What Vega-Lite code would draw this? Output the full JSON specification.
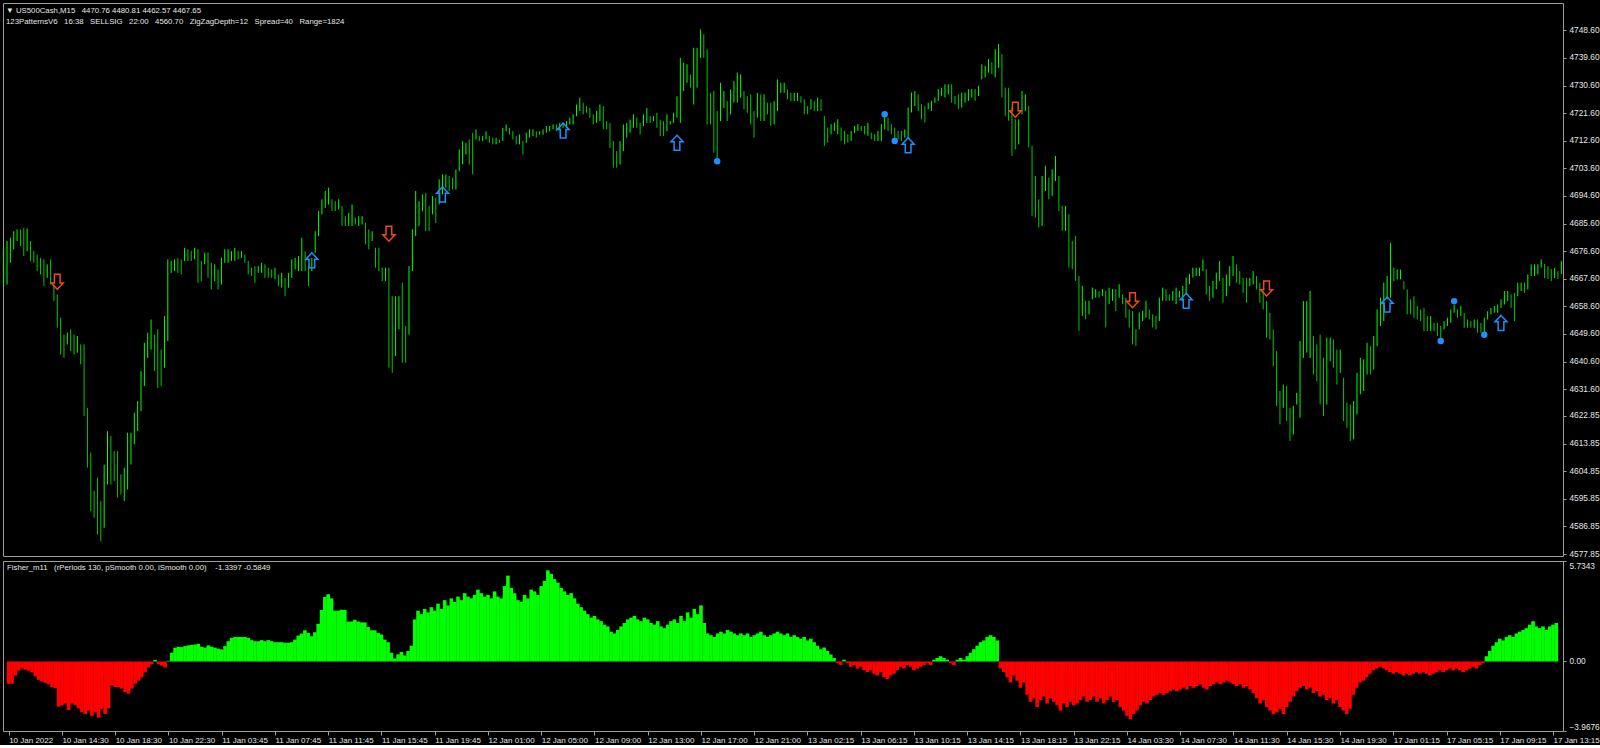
{
  "$schema": "https://vega.github.io/schema/vega-lite/v6.json",
  "description": "US500Cash M15 bar chart with 123PatternsV6 signals and Fisher_m11 histogram.",
  "background": "#000000",
  "padding": {"left": 2, "top": 2, "right": 0, "bottom": 0},
  "spacing": 2,
  "config": {
    "view": {"stroke": "#9c9c9c", "fill": "#000000"},
    "axis": {"grid": false, "domain": false, "labelOverlap": false, "tickColor": "#9c9c9c", "tickSize": 3, "labelColor": "#e6e6e6", "labelFont": "Liberation Sans", "labelFontSize": 8.3},
    "title": {"font": "Liberation Sans", "fontSize": 7.8, "fontWeight": "normal", "color": "#e6e6e6", "subtitleFont": "Liberation Sans", "subtitleFontSize": 7.8, "subtitleColor": "#e6e6e6", "subtitlePadding": 3}
  },
  "datasets": {
    "bars": [
{"i":0,"h":4677.7,"l":4665.2,"f":-1.27},{"i":1,"h":4679.9,"l":4665.7,"f":-1.27},{"i":2,"h":4681.0,"l":4672.8,"f":-0.8},{"i":3,"h":4683.1,"l":4677.2,"f":-0.52},{"i":4,"h":4683.7,"l":4679.9,"f":-0.39},
{"i":5,"h":4683.7,"l":4678.2,"f":-0.47},{"i":6,"h":4684.2,"l":4675.0,"f":-0.52},{"i":7,"h":4684.0,"l":4676.6,"f":-0.62},{"i":8,"h":4679.9,"l":4673.4,"f":-0.84},{"i":9,"h":4676.6,"l":4672.8,"f":-1.05},
{"i":10,"h":4675.5,"l":4670.1,"f":-1.14},{"i":11,"h":4674.4,"l":4669.0,"f":-1.22},{"i":12,"h":4673.9,"l":4665.2,"f":-1.31},{"i":13,"h":4672.3,"l":4667.9,"f":-1.46},{"i":14,"h":4673.9,"l":4665.7,"f":-1.52},
{"i":15,"h":4665.7,"l":4660.3,"f":-2.58},{"i":16,"h":4662.5,"l":4651.6,"f":-2.49},{"i":17,"h":4654.9,"l":4642.9,"f":-2.4},{"i":18,"h":4649.4,"l":4641.8,"f":-2.77},{"i":19,"h":4650.0,"l":4646.2,"f":-2.4},
{"i":20,"h":4651.1,"l":4644.0,"f":-2.49},{"i":21,"h":4649.4,"l":4642.9,"f":-2.68},{"i":22,"h":4648.9,"l":4643.5,"f":-2.9},{"i":23,"h":4646.2,"l":4639.7,"f":-3.0},{"i":24,"h":4646.2,"l":4622.8,"f":-2.8},
{"i":25,"h":4625.5,"l":4606.0,"f":-3.1},{"i":26,"h":4610.9,"l":4591.8,"f":-2.9},{"i":27,"h":4598.4,"l":4589.7,"f":-3.2},{"i":28,"h":4602.7,"l":4584.2,"f":-2.7},{"i":29,"h":4595.1,"l":4582.0,"f":-3.0},
{"i":30,"h":4607.0,"l":4586.4,"f":-2.68},{"i":31,"h":4617.9,"l":4600.5,"f":-1.37},{"i":32,"h":4616.3,"l":4600.5,"f":-1.46},{"i":33,"h":4611.4,"l":4601.6,"f":-1.46},{"i":34,"h":4611.4,"l":4596.2,"f":-1.55},
{"i":35,"h":4603.8,"l":4597.3,"f":-1.74},{"i":36,"h":4606.0,"l":4595.1,"f":-1.83},{"i":37,"h":4617.4,"l":4598.9,"f":-1.55},{"i":38,"h":4617.4,"l":4607.0,"f":-1.27},{"i":39,"h":4623.9,"l":4613.6,"f":-1.09},
{"i":40,"h":4627.7,"l":4617.9,"f":-0.9},{"i":41,"h":4637.5,"l":4624.4,"f":-0.62},{"i":42,"h":4646.7,"l":4632.6,"f":-0.34},{"i":43,"h":4650.0,"l":4641.8,"f":-0.15},{"i":44,"h":4654.3,"l":4644.5,"f":0.09},
{"i":45,"h":4649.4,"l":4637.5,"f":-0.15},{"i":46,"h":4651.1,"l":4632.0,"f":-0.24},{"i":47,"h":4644.5,"l":4632.6,"f":-0.34},{"i":48,"h":4655.4,"l":4638.6,"f":0.04},{"i":49,"h":4673.9,"l":4647.3,"f":0.5},
{"i":50,"h":4673.4,"l":4669.5,"f":0.79},{"i":51,"h":4673.9,"l":4670.1,"f":0.84},{"i":52,"h":4674.4,"l":4669.5,"f":0.82},{"i":53,"h":4673.9,"l":4669.0,"f":0.88},{"i":54,"h":4677.7,"l":4673.4,"f":0.92},
{"i":55,"h":4677.2,"l":4673.4,"f":0.95},{"i":56,"h":4676.6,"l":4673.4,"f":0.97},{"i":57,"h":4677.7,"l":4673.9,"f":1.01},{"i":58,"h":4677.2,"l":4666.3,"f":0.84},{"i":59,"h":4673.4,"l":4666.8,"f":0.79},
{"i":60,"h":4676.1,"l":4672.3,"f":0.92},{"i":61,"h":4676.1,"l":4667.9,"f":0.84},{"i":62,"h":4672.8,"l":4664.1,"f":0.79},{"i":63,"h":4672.3,"l":4666.8,"f":0.73},{"i":64,"h":4670.6,"l":4664.1,"f":0.69},
{"i":65,"h":4674.4,"l":4665.7,"f":0.88},{"i":66,"h":4677.2,"l":4672.8,"f":1.16},{"i":67,"h":4677.2,"l":4672.8,"f":1.35},{"i":68,"h":4676.6,"l":4673.4,"f":1.4},{"i":69,"h":4677.7,"l":4673.4,"f":1.4},
{"i":70,"h":4676.6,"l":4673.9,"f":1.4},{"i":71,"h":4676.6,"l":4674.4,"f":1.4},{"i":72,"h":4675.5,"l":4672.8,"f":1.35},{"i":73,"h":4673.4,"l":4669.0,"f":1.22},{"i":74,"h":4671.2,"l":4668.5,"f":1.16},
{"i":75,"h":4671.7,"l":4666.3,"f":1.16},{"i":76,"h":4671.7,"l":4669.5,"f":1.22},{"i":77,"h":4672.8,"l":4669.5,"f":1.16},{"i":78,"h":4672.3,"l":4667.9,"f":1.22},{"i":79,"h":4671.2,"l":4667.9,"f":1.16},
{"i":80,"h":4670.6,"l":4667.9,"f":1.1},{"i":81,"h":4671.2,"l":4667.4,"f":1.1},{"i":82,"h":4669.0,"l":4665.2,"f":1.1},{"i":83,"h":4669.5,"l":4664.7,"f":1.07},{"i":84,"h":4667.9,"l":4661.9,"f":1.07},
{"i":85,"h":4669.5,"l":4664.7,"f":1.1},{"i":86,"h":4673.9,"l":4667.9,"f":1.25},{"i":87,"h":4674.4,"l":4670.6,"f":1.48},{"i":88,"h":4675.0,"l":4670.1,"f":1.59},{"i":89,"h":4681.0,"l":4670.1,"f":1.78},
{"i":90,"h":4676.6,"l":4670.1,"f":1.63},{"i":91,"h":4671.7,"l":4665.2,"f":1.44},{"i":92,"h":4674.4,"l":4670.1,"f":1.67},{"i":93,"h":4683.1,"l":4676.1,"f":2.15},{"i":94,"h":4689.7,"l":4681.5,"f":2.94},
{"i":95,"h":4693.5,"l":4688.6,"f":3.69},{"i":96,"h":4696.2,"l":4690.7,"f":3.84},{"i":97,"h":4697.3,"l":4691.8,"f":3.6},{"i":98,"h":4693.5,"l":4689.7,"f":2.9},{"i":99,"h":4692.9,"l":4689.7,"f":2.9},
{"i":100,"h":4693.5,"l":4690.2,"f":2.95},{"i":101,"h":4691.3,"l":4684.8,"f":2.94},{"i":102,"h":4688.0,"l":4684.8,"f":2.28},{"i":103,"h":4689.1,"l":4684.8,"f":2.28},{"i":104,"h":4691.8,"l":4684.8,"f":2.38},
{"i":105,"h":4687.5,"l":4685.3,"f":2.28},{"i":106,"h":4688.0,"l":4684.8,"f":2.23},{"i":107,"h":4688.0,"l":4685.3,"f":2.23},{"i":108,"h":4685.9,"l":4678.8,"f":1.97},{"i":109,"h":4683.7,"l":4677.2,"f":1.78},
{"i":110,"h":4683.1,"l":4679.9,"f":1.78},{"i":111,"h":4677.7,"l":4671.2,"f":1.63},{"i":112,"h":4677.7,"l":4670.1,"f":1.54},{"i":113,"h":4671.2,"l":4666.8,"f":1.25},{"i":114,"h":4671.2,"l":4666.8,"f":1.1},
{"i":115,"h":4671.2,"l":4638.6,"f":0.5},{"i":116,"h":4661.9,"l":4636.9,"f":0.17},{"i":117,"h":4661.9,"l":4642.4,"f":0.41},{"i":118,"h":4661.9,"l":4651.1,"f":0.54},{"i":119,"h":4666.3,"l":4640.2,"f":0.35},
{"i":120,"h":4652.2,"l":4640.2,"f":0.6},{"i":121,"h":4671.7,"l":4649.4,"f":0.9},{"i":122,"h":4683.7,"l":4670.1,"f":2.4},{"i":123,"h":4696.2,"l":4681.5,"f":2.9},{"i":124,"h":4692.9,"l":4684.8,"f":2.7},
{"i":125,"h":4695.1,"l":4689.6,"f":3.0},{"i":126,"h":4695.6,"l":4683.1,"f":2.8},{"i":127,"h":4691.3,"l":4683.1,"f":3.1},{"i":128,"h":4694.5,"l":4688.6,"f":2.9},{"i":129,"h":4694.0,"l":4685.8,"f":3.3},
{"i":130,"h":4700.0,"l":4691.8,"f":3.0},{"i":131,"h":4701.6,"l":4695.1,"f":3.5},{"i":132,"h":4701.6,"l":4697.3,"f":3.2},{"i":133,"h":4701.1,"l":4696.2,"f":3.6},{"i":134,"h":4700.5,"l":4696.7,"f":3.4},
{"i":135,"h":4703.2,"l":4696.7,"f":3.7},{"i":136,"h":4709.8,"l":4702.7,"f":3.5},{"i":137,"h":4712.5,"l":4704.9,"f":3.9},{"i":138,"h":4711.9,"l":4708.1,"f":3.7},{"i":139,"h":4713.0,"l":4704.9,"f":3.6},
{"i":140,"h":4715.2,"l":4701.6,"f":3.8},{"i":141,"h":4716.3,"l":4713.0,"f":4.1},{"i":142,"h":4714.1,"l":4712.5,"f":3.9},{"i":143,"h":4714.1,"l":4712.5,"f":3.7},{"i":144,"h":4715.7,"l":4713.0,"f":3.8},
{"i":145,"h":4714.1,"l":4711.9,"f":3.6},{"i":146,"h":4713.6,"l":4711.4,"f":4.0},{"i":147,"h":4713.6,"l":4711.4,"f":3.7},{"i":148,"h":4713.0,"l":4711.9,"f":3.6},{"i":149,"h":4716.8,"l":4712.5,"f":4.3},
{"i":150,"h":4717.9,"l":4715.7,"f":4.9},{"i":151,"h":4716.8,"l":4714.6,"f":4.2},{"i":152,"h":4715.7,"l":4713.0,"f":3.9},{"i":153,"h":4714.1,"l":4711.4,"f":3.5},{"i":154,"h":4714.6,"l":4711.4,"f":3.4},
{"i":155,"h":4712.5,"l":4708.1,"f":3.8},{"i":156,"h":4715.2,"l":4711.9,"f":3.6},{"i":157,"h":4716.3,"l":4713.6,"f":4.1},{"i":158,"h":4716.3,"l":4714.1,"f":4.0},{"i":159,"h":4715.7,"l":4713.6,"f":3.8},
{"i":160,"h":4715.7,"l":4714.6,"f":4.3},{"i":161,"h":4716.3,"l":4714.6,"f":4.6},{"i":162,"h":4717.4,"l":4715.2,"f":5.2},{"i":163,"h":4717.4,"l":4715.7,"f":5.0},{"i":164,"h":4717.9,"l":4716.3,"f":4.7},
{"i":165,"h":4717.9,"l":4715.7,"f":4.5},{"i":166,"h":4718.4,"l":4716.3,"f":4.2},{"i":167,"h":4718.4,"l":4716.8,"f":4.0},{"i":168,"h":4719.0,"l":4716.8,"f":3.8},{"i":169,"h":4720.1,"l":4717.9,"f":3.9},
{"i":170,"h":4721.2,"l":4717.9,"f":3.6},{"i":171,"h":4724.4,"l":4720.6,"f":3.3},{"i":172,"h":4726.6,"l":4722.3,"f":3.1},{"i":173,"h":4725.0,"l":4721.2,"f":2.9},{"i":174,"h":4723.9,"l":4721.7,"f":2.7},
{"i":175,"h":4723.3,"l":4720.1,"f":2.5},{"i":176,"h":4721.2,"l":4717.9,"f":2.6},{"i":177,"h":4722.3,"l":4718.4,"f":2.4},{"i":178,"h":4724.4,"l":4719.0,"f":2.3},{"i":179,"h":4723.9,"l":4716.3,"f":2.1},
{"i":180,"h":4719.0,"l":4716.3,"f":2.0},{"i":181,"h":4718.4,"l":4710.3,"f":1.7},{"i":182,"h":4712.5,"l":4703.8,"f":1.6},{"i":183,"h":4709.2,"l":4703.8,"f":1.8},{"i":184,"h":4712.5,"l":4704.9,"f":2.0},
{"i":185,"h":4717.9,"l":4709.2,"f":2.2},{"i":186,"h":4718.4,"l":4713.6,"f":2.4},{"i":187,"h":4719.5,"l":4715.2,"f":2.5},{"i":188,"h":4721.2,"l":4716.8,"f":2.6},{"i":189,"h":4720.1,"l":4716.8,"f":2.4},
{"i":190,"h":4718.4,"l":4714.6,"f":2.3},{"i":191,"h":4721.2,"l":4717.4,"f":2.5},{"i":192,"h":4723.3,"l":4718.4,"f":2.4},{"i":193,"h":4720.6,"l":4718.4,"f":2.2},{"i":194,"h":4720.6,"l":4719.0,"f":2.1},
{"i":195,"h":4721.7,"l":4716.8,"f":2.3},{"i":196,"h":4719.5,"l":4714.1,"f":2.0},{"i":197,"h":4719.0,"l":4714.1,"f":1.9},{"i":198,"h":4721.2,"l":4715.7,"f":2.1},{"i":199,"h":4719.0,"l":4717.9,"f":2.3},
{"i":200,"h":4721.7,"l":4718.4,"f":2.4},{"i":201,"h":4727.1,"l":4720.1,"f":2.2},{"i":202,"h":4739.6,"l":4718.4,"f":2.6},{"i":203,"h":4738.0,"l":4728.8,"f":2.3},{"i":204,"h":4737.5,"l":4731.5,"f":2.8},
{"i":205,"h":4734.2,"l":4729.9,"f":2.5},{"i":206,"h":4742.9,"l":4724.4,"f":3.0},{"i":207,"h":4742.9,"l":4729.9,"f":2.7},{"i":208,"h":4748.9,"l":4739.6,"f":3.2},{"i":209,"h":4747.3,"l":4739.6,"f":2.2},
{"i":210,"h":4742.4,"l":4717.9,"f":1.6},{"i":211,"h":4728.2,"l":4717.9,"f":1.5},{"i":212,"h":4728.8,"l":4708.7,"f":1.4},{"i":213,"h":4722.3,"l":4706.5,"f":1.6},{"i":214,"h":4731.5,"l":4719.0,"f":1.7},
{"i":215,"h":4728.8,"l":4723.3,"f":1.6},{"i":216,"h":4725.5,"l":4719.0,"f":1.8},{"i":217,"h":4729.3,"l":4721.2,"f":1.7},{"i":218,"h":4732.0,"l":4725.0,"f":1.6},{"i":219,"h":4734.8,"l":4725.0,"f":1.5},
{"i":220,"h":4734.2,"l":4726.6,"f":1.6},{"i":221,"h":4728.8,"l":4722.8,"f":1.5},{"i":222,"h":4727.1,"l":4721.7,"f":1.6},{"i":223,"h":4727.7,"l":4717.9,"f":1.4},{"i":224,"h":4722.3,"l":4713.6,"f":1.5},
{"i":225,"h":4728.2,"l":4720.1,"f":1.6},{"i":226,"h":4727.7,"l":4719.0,"f":1.7},{"i":227,"h":4727.7,"l":4719.0,"f":1.5},{"i":228,"h":4725.0,"l":4721.2,"f":1.4},{"i":229,"h":4725.0,"l":4717.4,"f":1.5},
{"i":230,"h":4725.5,"l":4717.9,"f":1.6},{"i":231,"h":4732.6,"l":4722.3,"f":1.7},{"i":232,"h":4731.5,"l":4728.2,"f":1.6},{"i":233,"h":4731.5,"l":4728.2,"f":1.5},{"i":234,"h":4729.3,"l":4726.1,"f":1.6},
{"i":235,"h":4728.2,"l":4725.5,"f":1.4},{"i":236,"h":4728.2,"l":4725.5,"f":1.5},{"i":237,"h":4728.2,"l":4725.5,"f":1.4},{"i":238,"h":4727.1,"l":4725.0,"f":1.3},{"i":239,"h":4726.1,"l":4721.2,"f":1.4},
{"i":240,"h":4723.9,"l":4721.2,"f":1.2},{"i":241,"h":4726.1,"l":4722.8,"f":1.3},{"i":242,"h":4725.5,"l":4722.3,"f":1.1},{"i":243,"h":4726.6,"l":4722.3,"f":0.9},{"i":244,"h":4726.1,"l":4722.3,"f":0.7},
{"i":245,"h":4720.7,"l":4710.9,"f":0.8},{"i":246,"h":4716.9,"l":4712.0,"f":0.6},{"i":247,"h":4718.0,"l":4714.7,"f":0.4},{"i":248,"h":4718.5,"l":4715.8,"f":0.2},{"i":249,"h":4719.6,"l":4714.7,"f":-0.1},
{"i":250,"h":4716.9,"l":4712.5,"f":-0.2},{"i":251,"h":4715.8,"l":4711.4,"f":0.1},{"i":252,"h":4714.7,"l":4712.0,"f":-0.1},{"i":253,"h":4715.8,"l":4712.5,"f":-0.3},{"i":254,"h":4717.4,"l":4715.2,"f":-0.2},
{"i":255,"h":4718.0,"l":4715.8,"f":-0.4},{"i":256,"h":4717.4,"l":4715.8,"f":-0.3},{"i":257,"h":4717.4,"l":4714.7,"f":-0.5},{"i":258,"h":4718.5,"l":4714.2,"f":-0.6},{"i":259,"h":4715.2,"l":4713.1,"f":-0.5},
{"i":260,"h":4714.7,"l":4712.5,"f":-0.7},{"i":261,"h":4715.8,"l":4712.5,"f":-0.8},{"i":262,"h":4718.0,"l":4712.5,"f":-0.6},{"i":263,"h":4720.7,"l":4716.3,"f":-0.9},{"i":264,"h":4720.1,"l":4715.8,"f":-1.0},
{"i":265,"h":4718.0,"l":4714.7,"f":-0.8},{"i":266,"h":4716.9,"l":4713.1,"f":-0.7},{"i":267,"h":4715.8,"l":4713.1,"f":-0.5},{"i":268,"h":4715.8,"l":4712.5,"f":-0.3},{"i":269,"h":4716.3,"l":4713.6,"f":-0.4},
{"i":270,"h":4723.4,"l":4713.6,"f":-0.2},{"i":271,"h":4728.3,"l":4721.8,"f":-0.3},{"i":272,"h":4728.8,"l":4723.9,"f":-0.5},{"i":273,"h":4727.7,"l":4722.3,"f":-0.4},{"i":274,"h":4724.5,"l":4719.6,"f":-0.3},
{"i":275,"h":4723.9,"l":4718.5,"f":-0.2},{"i":276,"h":4725.0,"l":4722.9,"f":-0.1},{"i":277,"h":4725.6,"l":4722.3,"f":-0.2},{"i":278,"h":4726.7,"l":4725.0,"f":0.1},{"i":279,"h":4729.4,"l":4725.6,"f":0.2},
{"i":280,"h":4729.9,"l":4727.2,"f":0.3},{"i":281,"h":4731.0,"l":4726.7,"f":0.2},{"i":282,"h":4731.0,"l":4727.7,"f":0.1},{"i":283,"h":4731.0,"l":4725.0,"f":-0.1},{"i":284,"h":4727.2,"l":4724.5,"f":-0.2},
{"i":285,"h":4727.7,"l":4722.9,"f":0.1},{"i":286,"h":4728.3,"l":4723.4,"f":0.2},{"i":287,"h":4728.3,"l":4725.0,"f":0.1},{"i":288,"h":4729.4,"l":4725.6,"f":0.3},{"i":289,"h":4729.4,"l":4726.7,"f":0.5},
{"i":290,"h":4729.4,"l":4725.6,"f":0.7},{"i":291,"h":4730.5,"l":4727.2,"f":0.9},{"i":292,"h":4737.5,"l":4732.6,"f":1.1},{"i":293,"h":4737.0,"l":4733.2,"f":1.2},{"i":294,"h":4739.2,"l":4734.8,"f":1.4},
{"i":295,"h":4738.1,"l":4734.3,"f":1.5},{"i":296,"h":4742.4,"l":4733.2,"f":1.4},{"i":297,"h":4744.1,"l":4736.4,"f":1.2},{"i":298,"h":4740.8,"l":4726.7,"f":-0.4},{"i":299,"h":4729.9,"l":4720.7,"f":-0.6},
{"i":300,"h":4729.9,"l":4719.1,"f":-0.9},{"i":301,"h":4723.4,"l":4707.6,"f":-1.2},{"i":302,"h":4719.6,"l":4709.8,"f":-0.8},{"i":303,"h":4719.6,"l":4711.4,"f":-1.1},{"i":304,"h":4728.8,"l":4721.2,"f":-1.5},
{"i":305,"h":4727.7,"l":4722.3,"f":-1.2},{"i":306,"h":4723.9,"l":4710.4,"f":-1.9},{"i":307,"h":4710.9,"l":4688.1,"f":-2.3},{"i":308,"h":4701.1,"l":4687.5,"f":-2.1},{"i":309,"h":4693.5,"l":4684.3,"f":-2.6},
{"i":310,"h":4701.1,"l":4684.8,"f":-2.2},{"i":311,"h":4704.4,"l":4696.2,"f":-2.0},{"i":312,"h":4700.6,"l":4693.5,"f":-2.4},{"i":313,"h":4703.3,"l":4694.6,"f":-2.1},{"i":314,"h":4707.6,"l":4699.5,"f":-2.3},
{"i":315,"h":4701.1,"l":4689.7,"f":-2.5},{"i":316,"h":4691.3,"l":4683.2,"f":-2.8},{"i":317,"h":4691.3,"l":4683.2,"f":-2.4},{"i":318,"h":4688.6,"l":4671.2,"f":-2.6},{"i":319,"h":4679.9,"l":4670.7,"f":-2.3},
{"i":320,"h":4681.6,"l":4666.9,"f":-2.5},{"i":321,"h":4668.5,"l":4650.6,"f":-2.4},{"i":322,"h":4665.3,"l":4655.5,"f":-2.2},{"i":323,"h":4660.4,"l":4654.4,"f":-2.0},{"i":324,"h":4660.4,"l":4656.0,"f":-2.3},
{"i":325,"h":4664.7,"l":4660.9,"f":-2.2},{"i":326,"h":4664.2,"l":4661.4,"f":-2.0},{"i":327,"h":4663.6,"l":4661.4,"f":-2.3},{"i":328,"h":4664.2,"l":4662.0,"f":-2.1},{"i":329,"h":4663.6,"l":4651.7,"f":-2.4},
{"i":330,"h":4664.7,"l":4659.3,"f":-2.2},{"i":331,"h":4664.2,"l":4660.4,"f":-2.0},{"i":332,"h":4664.2,"l":4657.1,"f":-2.3},{"i":333,"h":4665.8,"l":4661.4,"f":-2.2},{"i":334,"h":4662.5,"l":4659.3,"f":-2.6},
{"i":335,"h":4661.4,"l":4654.9,"f":-2.8},{"i":336,"h":4657.6,"l":4651.7,"f":-3.1},{"i":337,"h":4657.1,"l":4646.2,"f":-3.3},{"i":338,"h":4651.1,"l":4645.7,"f":-3.0},{"i":339,"h":4656.6,"l":4651.1,"f":-2.8},
{"i":340,"h":4657.1,"l":4653.8,"f":-2.5},{"i":341,"h":4660.4,"l":4654.9,"f":-2.3},{"i":342,"h":4657.6,"l":4654.4,"f":-2.4},{"i":343,"h":4656.0,"l":4651.7,"f":-2.2},{"i":344,"h":4655.5,"l":4651.1,"f":-2.0},
{"i":345,"h":4661.4,"l":4653.8,"f":-1.9},{"i":346,"h":4664.7,"l":4660.4,"f":-1.8},{"i":347,"h":4664.2,"l":4660.4,"f":-1.9},{"i":348,"h":4662.5,"l":4660.4,"f":-1.8},{"i":349,"h":4663.6,"l":4660.4,"f":-1.7},
{"i":350,"h":4664.7,"l":4659.3,"f":-1.6},{"i":351,"h":4663.6,"l":4661.4,"f":-1.7},{"i":352,"h":4665.3,"l":4660.4,"f":-1.6},{"i":353,"h":4668.0,"l":4662.5,"f":-1.5},{"i":354,"h":4669.1,"l":4665.8,"f":-1.6},
{"i":355,"h":4671.2,"l":4668.0,"f":-1.4},{"i":356,"h":4671.2,"l":4668.5,"f":-1.5},{"i":357,"h":4671.2,"l":4668.5,"f":-1.4},{"i":358,"h":4673.9,"l":4670.1,"f":-1.3},{"i":359,"h":4670.7,"l":4662.5,"f":-1.5},
{"i":360,"h":4665.3,"l":4660.4,"f":-1.6},{"i":361,"h":4666.9,"l":4661.4,"f":-1.4},{"i":362,"h":4669.6,"l":4664.2,"f":-1.3},{"i":363,"h":4673.4,"l":4666.9,"f":-1.2},{"i":364,"h":4667.9,"l":4659.8,"f":-1.3},
{"i":365,"h":4669.0,"l":4661.9,"f":-1.2},{"i":366,"h":4671.7,"l":4665.2,"f":-1.1},{"i":367,"h":4675.0,"l":4668.5,"f":-1.2},{"i":368,"h":4672.3,"l":4666.3,"f":-1.3},{"i":369,"h":4670.1,"l":4665.7,"f":-1.4},
{"i":370,"h":4667.9,"l":4663.0,"f":-1.3},{"i":371,"h":4667.9,"l":4659.8,"f":-1.5},{"i":372,"h":4667.9,"l":4665.2,"f":-1.4},{"i":373,"h":4670.1,"l":4665.7,"f":-1.6},{"i":374,"h":4668.5,"l":4664.1,"f":-1.8},
{"i":375,"h":4666.3,"l":4659.8,"f":-2.1},{"i":376,"h":4663.6,"l":4657.6,"f":-2.4},{"i":377,"h":4660.3,"l":4648.4,"f":-2.2},{"i":378,"h":4656.5,"l":4647.8,"f":-2.6},{"i":379,"h":4651.1,"l":4639.1,"f":-2.8},
{"i":380,"h":4644.0,"l":4626.1,"f":-3.0},{"i":381,"h":4631.0,"l":4620.1,"f":-2.9},{"i":382,"h":4633.1,"l":4625.5,"f":-2.7},{"i":383,"h":4632.6,"l":4621.2,"f":-3.0},{"i":384,"h":4625.5,"l":4614.7,"f":-2.6},
{"i":385,"h":4626.1,"l":4616.8,"f":-2.3},{"i":386,"h":4630.4,"l":4626.6,"f":-2.0},{"i":387,"h":4647.3,"l":4622.3,"f":-1.7},{"i":388,"h":4660.3,"l":4641.8,"f":-1.5},{"i":389,"h":4660.3,"l":4643.5,"f":-1.4},
{"i":390,"h":4663.6,"l":4641.8,"f":-1.6},{"i":391,"h":4648.9,"l":4636.4,"f":-1.5},{"i":392,"h":4646.2,"l":4634.2,"f":-1.8},{"i":393,"h":4649.4,"l":4626.6,"f":-1.7},{"i":394,"h":4641.8,"l":4622.8,"f":-2.0},
{"i":395,"h":4648.4,"l":4626.6,"f":-1.9},{"i":396,"h":4648.4,"l":4640.7,"f":-2.2},{"i":397,"h":4647.8,"l":4638.6,"f":-2.1},{"i":398,"h":4644.5,"l":4633.1,"f":-2.4},{"i":399,"h":4644.5,"l":4636.9,"f":-2.2},
{"i":400,"h":4635.3,"l":4621.2,"f":-2.6},{"i":401,"h":4627.2,"l":4619.0,"f":-2.8},{"i":402,"h":4626.6,"l":4614.7,"f":-3.0},{"i":403,"h":4627.7,"l":4615.2,"f":-2.7},{"i":404,"h":4636.9,"l":4623.4,"f":-1.9},
{"i":405,"h":4641.8,"l":4629.9,"f":-1.5},{"i":406,"h":4641.3,"l":4631.0,"f":-1.2},{"i":407,"h":4646.7,"l":4636.4,"f":-1.1},{"i":408,"h":4645.6,"l":4636.4,"f":-0.9},{"i":409,"h":4648.9,"l":4638.0,"f":-0.7},
{"i":410,"h":4657.6,"l":4645.6,"f":-0.5},{"i":411,"h":4661.4,"l":4652.2,"f":-0.4},{"i":412,"h":4666.3,"l":4653.8,"f":-0.3},{"i":413,"h":4668.5,"l":4660.9,"f":-0.4},{"i":414,"h":4679.3,"l":4661.4,"f":-0.5},
{"i":415,"h":4671.2,"l":4666.8,"f":-0.6},{"i":416,"h":4670.6,"l":4667.4,"f":-0.7},{"i":417,"h":4670.6,"l":4667.4,"f":-0.6},{"i":418,"h":4666.8,"l":4664.1,"f":-0.7},{"i":419,"h":4664.1,"l":4656.0,"f":-0.8},
{"i":420,"h":4660.9,"l":4656.0,"f":-0.7},{"i":421,"h":4661.9,"l":4654.9,"f":-0.8},{"i":422,"h":4658.7,"l":4654.3,"f":-0.7},{"i":423,"h":4657.6,"l":4653.8,"f":-0.6},{"i":424,"h":4658.1,"l":4650.5,"f":-0.7},
{"i":425,"h":4655.4,"l":4650.5,"f":-0.6},{"i":426,"h":4655.4,"l":4650.5,"f":-0.7},{"i":427,"h":4653.2,"l":4650.5,"f":-0.8},{"i":428,"h":4653.2,"l":4648.9,"f":-0.7},{"i":429,"h":4652.2,"l":4647.8,"f":-0.6},
{"i":430,"h":4653.8,"l":4651.1,"f":-0.5},{"i":431,"h":4654.9,"l":4652.2,"f":-0.6},{"i":432,"h":4657.6,"l":4653.2,"f":-0.5},{"i":433,"h":4659.2,"l":4656.5,"f":-0.4},{"i":434,"h":4657.6,"l":4654.9,"f":-0.5},
{"i":435,"h":4658.7,"l":4655.4,"f":-0.4},{"i":436,"h":4656.5,"l":4651.6,"f":-0.5},{"i":437,"h":4654.3,"l":4651.6,"f":-0.6},{"i":438,"h":4653.8,"l":4651.6,"f":-0.5},{"i":439,"h":4654.3,"l":4651.6,"f":-0.4},
{"i":440,"h":4654.3,"l":4650.0,"f":-0.3},{"i":441,"h":4653.2,"l":4650.0,"f":-0.4},{"i":442,"h":4654.9,"l":4650.0,"f":-0.2},{"i":443,"h":4657.0,"l":4654.3,"f":-0.1},{"i":444,"h":4658.1,"l":4656.0,"f":0.3},
{"i":445,"h":4658.7,"l":4656.5,"f":0.6},{"i":446,"h":4659.2,"l":4656.5,"f":0.9},{"i":447,"h":4660.9,"l":4658.1,"f":1.1},{"i":448,"h":4663.6,"l":4659.2,"f":1.3},{"i":449,"h":4663.6,"l":4660.3,"f":1.2},
{"i":450,"h":4662.5,"l":4658.1,"f":1.4},{"i":451,"h":4663.0,"l":4653.8,"f":1.5},{"i":452,"h":4666.3,"l":4661.9,"f":1.4},{"i":453,"h":4666.3,"l":4663.6,"f":1.6},{"i":454,"h":4666.3,"l":4663.0,"f":1.7},
{"i":455,"h":4669.0,"l":4664.1,"f":1.8},{"i":456,"h":4672.3,"l":4668.5,"f":1.9},{"i":457,"h":4672.3,"l":4668.5,"f":2.1},{"i":458,"h":4672.3,"l":4669.0,"f":2.3},{"i":459,"h":4673.9,"l":4671.2,"f":2.0},
{"i":460,"h":4672.4,"l":4667.8,"f":1.9},{"i":461,"h":4671.7,"l":4667.5,"f":2.0},{"i":462,"h":4670.8,"l":4666.8,"f":1.8},{"i":463,"h":4671.1,"l":4667.8,"f":2.0},{"i":464,"h":4670.1,"l":4667.5,"f":2.1},
{"i":465,"h":4673.4,"l":4669.1,"f":2.2}
    ],
    "signals": [
      {"i":92,"p":4673.6,"k":"buy"},{"i":131,"p":4695.1,"k":"buy"},{"i":167,"p":4715.9,"k":"buy"},{"i":201,"p":4711.9,"k":"buy"},
      {"i":270,"p":4711.1,"k":"buy"},{"i":353,"p":4660.4,"k":"buy"},{"i":413,"p":4659.2,"k":"buy"},{"i":447,"p":4653.2,"k":"buy"},
      {"i":16,"p":4666.6,"k":"sell"},{"i":115,"p":4682.3,"k":"sell"},{"i":302,"p":4722.7,"k":"sell"},{"i":337,"p":4660.6,"k":"sell"},{"i":377,"p":4664.4,"k":"sell"},
      {"i":213,"p":4705.9,"k":"dot"},{"i":263,"p":4721.2,"k":"dot"},{"i":266,"p":4712.5,"k":"dot"},{"i":429,"p":4647.3,"k":"dot"},{"i":433,"p":4660.3,"k":"dot"},{"i":442,"p":4649.3,"k":"dot"}
    ]
  },
  "vconcat": [
    {
      "width": 1560,
      "height": 553,
      "title": {
        "text": "▼  US500Cash,M15\u00a0\u00a0 4470.76 4480.81 4462.57 4467.65",
        "subtitle": "123PatternsV6\u00a0\u00a0 16:38\u00a0\u00a0 SELLSIG\u00a0\u00a0 22:00\u00a0\u00a0 4560.70\u00a0\u00a0 ZigZagDepth=12\u00a0\u00a0 Spread=40\u00a0\u00a0 Range=1824",
        "anchor": "start",
        "orient": "top",
        "offset": -23,
        "dx": 3
      },
      "layer": [
        {
          "data": {"name": "bars"},
          "transform": [
            {"window": [{"op": "lag", "field": "h", "as": "ph"}, {"op": "lag", "field": "l", "as": "pl"}], "sort": [{"field": "i", "order": "ascending"}]}
          ],
          "mark": {"type": "rule", "strokeWidth": 1},
          "encoding": {
            "x": {"field": "i", "type": "quantitative", "scale": {"domain": [-0.2, 465.5], "nice": false, "zero": false}, "axis": null},
            "y": {
              "field": "l", "type": "quantitative",
              "scale": {"domain": [4577.2, 4757.5], "nice": false, "zero": false},
              "axis": {"orient": "right", "title": null, "format": ".2f", "labelPadding": 3, "labelOverlap": false, "labelFlush": false,
                "values": [4748.6, 4739.6, 4730.6, 4721.6, 4712.6, 4703.6, 4694.6, 4685.6, 4676.6, 4667.6, 4658.6, 4649.6, 4640.6, 4631.6, 4622.85, 4613.85, 4604.85, 4595.85, 4586.85, 4577.85]}
            },
            "y2": {"field": "h"},
            "color": {"condition": {"test": "datum.ph == null || datum.h + datum.l >= datum.ph + datum.pl", "value": "#00ff00"}, "value": "#00c800"}
          }
        },
        {
          "data": {"name": "signals"},
          "transform": [{"filter": "datum.k != 'dot'"}],
          "mark": {"type": "point", "filled": false, "strokeWidth": 1.5, "size": 225, "opacity": 1},
          "encoding": {
            "x": {"field": "i", "type": "quantitative", "axis": null},
            "y": {"field": "p", "type": "quantitative",
              "axis": {"orient": "right", "title": null, "format": ".2f", "labelPadding": 3, "labelOverlap": false, "labelFlush": false,
                "values": [4748.6, 4739.6, 4730.6, 4721.6, 4712.6, 4703.6, 4694.6, 4685.6, 4676.6, 4667.6, 4658.6, 4649.6, 4640.6, 4631.6, 4622.85, 4613.85, 4604.85, 4595.85, 4586.85, 4577.85]}},
            "shape": {"field": "k", "type": "nominal", "legend": null,
              "scale": {"domain": ["buy", "sell"], "range": ["M0,-1L0.8,-0.15L0.38,-0.15L0.38,1L-0.38,1L-0.38,-0.15L-0.8,-0.15Z", "M0,1L0.8,0.15L0.38,0.15L0.38,-1L-0.38,-1L-0.38,0.15L-0.8,0.15Z"]}},
            "color": {"field": "k", "type": "nominal", "legend": null, "scale": {"domain": ["buy", "sell"], "range": ["#1e8fff", "#f04a16"]}}
          }
        },
        {
          "data": {"name": "signals"},
          "transform": [{"filter": "datum.k == 'dot'"}],
          "mark": {"type": "point", "filled": true, "shape": "circle", "size": 42, "color": "#1e8fff", "opacity": 1},
          "encoding": {
            "x": {"field": "i", "type": "quantitative", "axis": null},
            "y": {"field": "p", "type": "quantitative",
              "axis": {"orient": "right", "title": null, "format": ".2f", "labelPadding": 3, "labelOverlap": false, "labelFlush": false,
                "values": [4748.6, 4739.6, 4730.6, 4721.6, 4712.6, 4703.6, 4694.6, 4685.6, 4676.6, 4667.6, 4658.6, 4649.6, 4640.6, 4631.6, 4622.85, 4613.85, 4604.85, 4595.85, 4586.85, 4577.85]}}
          }
        }
      ]
    },
    {
      "width": 1560,
      "height": 170,
      "title": {
        "text": "Fisher_m11\u00a0\u00a0 (rPeriods 130, pSmooth 0.00, iSmooth 0.00)\u00a0\u00a0\u00a0 -1.3397 -0.5849",
        "anchor": "start",
        "orient": "top",
        "offset": -11,
        "dx": 4
      },
      "data": {"name": "bars"},
      "mark": {"type": "bar", "size": 3.6},
      "encoding": {
        "x": {
          "field": "i", "type": "quantitative",
          "scale": {"domain": [-0.2, 465.5], "nice": false, "zero": false},
          "axis": {
            "orient": "bottom", "title": null, "tickSize": 4, "labelAlign": "left", "labelBaseline": "top", "labelPadding": 1, "labelOverlap": false, "labelFlush": false, "labelFontSize": 8,
            "values": [0, 16, 32, 48, 64, 80, 96, 112, 128, 144, 160, 176, 192, 208, 224, 240, 256, 272, 288, 304, 320, 336, 352, 368, 384, 400, 416, 432, 448, 464],
            "labelExpr": "['10 Jan 2022','10 Jan 14:30','10 Jan 18:30','10 Jan 22:30','11 Jan 03:45','11 Jan 07:45','11 Jan 11:45','11 Jan 15:45','11 Jan 19:45','12 Jan 01:00','12 Jan 05:00','12 Jan 09:00','12 Jan 13:00','12 Jan 17:00','12 Jan 21:00','13 Jan 02:15','13 Jan 06:15','13 Jan 10:15','13 Jan 14:15','13 Jan 18:15','13 Jan 22:15','14 Jan 03:30','14 Jan 07:30','14 Jan 11:30','14 Jan 15:30','14 Jan 19:30','17 Jan 01:15','17 Jan 05:15','17 Jan 09:15','17 Jan 13:15'][round(datum.value / 16)]"
          }
        },
        "y": {
          "field": "f", "type": "quantitative",
          "scale": {"domain": [-3.9676, 5.7343], "nice": false, "zero": false},
          "axis": {"orient": "right", "title": null, "values": [5.7343, 0, -3.9676], "labelFlush": true, "labelPadding": 3,
            "labelExpr": "datum.value == 0 ? '0.00' : format(datum.value, '.4f')"}
        },
        "color": {"condition": {"test": "datum.f >= 0", "value": "#00ff00"}, "value": "#ff0000"}
      }
    }
  ]
}
